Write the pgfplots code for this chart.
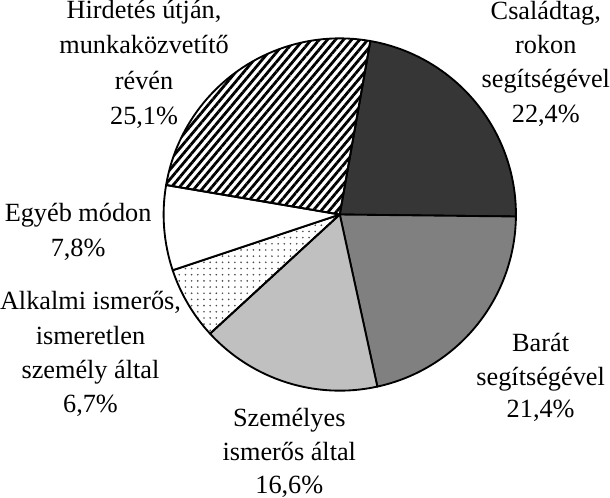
\documentclass[border=0pt]{standalone}
\usepackage{pgfplots}
\pgfplotsset{compat=1.18}
\usepackage{fontspec}
\setmainfont{Liberation Serif}
\usetikzlibrary{patterns.meta}
\definecolor{cdark}{HTML}{363636}
\definecolor{cmid}{HTML}{808080}
\definecolor{clight}{HTML}{C0C0C0}
\definecolor{cdot}{HTML}{505050}
\tikzset{lbl/.style={anchor=base,inner sep=0pt,font=\fontsize{25.5}{34}\selectfont}}
% shares in percent, clockwise from 10 degrees right of the top
\def\vCsalad{22.4}
\def\vBarat{21.4}
\def\vSzemely{16.6}
\def\vAlkalmi{6.7}
\def\vEgyeb{7.8}
\def\vHirdetes{25.1}
\pgfmathsetmacro\aA{80}
\pgfmathsetmacro\aB{\aA-3.6*\vCsalad}
\pgfmathsetmacro\aC{\aB-3.6*\vBarat}
\pgfmathsetmacro\aD{\aC-3.6*\vSzemely}
\pgfmathsetmacro\aE{\aD-3.6*\vAlkalmi}
\pgfmathsetmacro\aF{\aE-3.6*\vEgyeb}
\pgfmathsetmacro\aG{\aF-3.6*\vHirdetes}
\newcommand\pieslice[3]{\path[#3] (axis cs:342,222.5) -- ++(#1:171pt) arc[start angle=#1, end angle=#2, radius=171pt] -- cycle;}
\begin{document}
\begin{tikzpicture}
\begin{axis}[width=610pt,height=500pt,scale only axis,
  xmin=0,xmax=610,ymin=0,ymax=500,y dir=reverse,
  axis lines=none,clip=false]
\pieslice{\aA}{\aB}{fill=cdark,draw=black,line width=1.8pt,line join=round}
\pieslice{\aB}{\aC}{fill=cmid,draw=black,line width=1.8pt,line join=round}
\pieslice{\aC}{\aD}{fill=clight,draw=black,line width=1.8pt,line join=round}
\pieslice{\aD}{\aE}{draw=black,line width=1.8pt,line join=round,pattern={Dots[distance=6pt,radius=0.9pt]},pattern color=cdot}
\pieslice{\aE}{\aF}{fill=white,draw=black,line width=1.8pt,line join=round}
\pieslice{\aF}{\aG}{draw=black,line width=1.8pt,line join=round,pattern={Lines[angle=50,distance=6pt,line width=2.7pt]},pattern color=black}
% labels
\node[lbl] at (axis cs:152,32) {Hirdetés útján,};
\node[lbl] at (axis cs:152,66.5) {munkaközvetítő};
\node[lbl] at (axis cs:152,101) {révén};
\node[lbl] at (axis cs:152,135.5) {25,1\%};
\node[lbl] at (axis cs:542,33) {Családtag,};
\node[lbl] at (axis cs:542,66.5) {rokon};
\node[lbl] at (axis cs:542,99.5) {segítségével};
\node[lbl] at (axis cs:542,133) {22,4\%};
\node[lbl] at (axis cs:88,229) {Egyéb módon};
\node[lbl] at (axis cs:88,263) {7,8\%};
\node[lbl] at (axis cs:100,315) {Alkalmi ismerős,};
\node[lbl] at (axis cs:100,348.5) {ismeretlen};
\node[lbl] at (axis cs:100,382) {személy által};
\node[lbl] at (axis cs:100,415) {6,7\%};
\node[lbl] at (axis cs:537,355) {Barát};
\node[lbl] at (axis cs:537,388) {segítségével};
\node[lbl] at (axis cs:537,420) {21,4\%};
\node[lbl] at (axis cs:293,428) {Személyes};
\node[lbl] at (axis cs:293,461) {ismerős által};
\node[lbl] at (axis cs:293,493) {16,6\%};
\end{axis}
\end{tikzpicture}
\end{document}
